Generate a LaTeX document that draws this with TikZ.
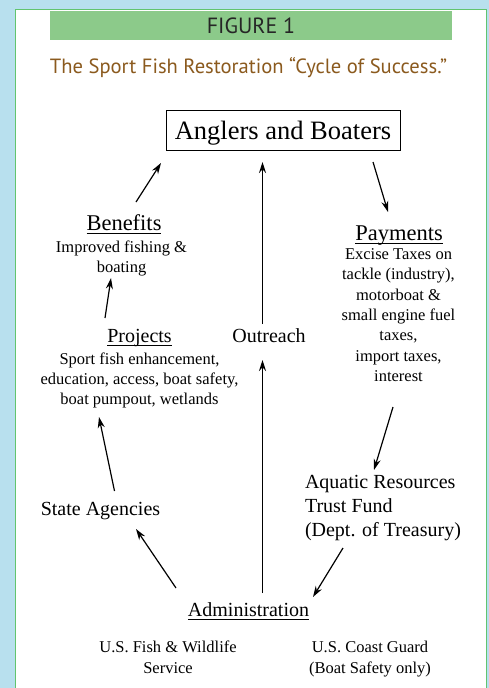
\documentclass[tikz,border=0pt]{standalone}
\usepackage{fontspec}
\setmainfont{Liberation Serif}
\newfontfamily\figfont{PT Sans}
\usetikzlibrary{arrows.meta}

\definecolor{skyblue}{HTML}{B8E0EE}
\definecolor{framegreen}{HTML}{62C46E}
\definecolor{bargreen}{HTML}{8CCA8A}
\definecolor{titlebrown}{HTML}{8B5A1E}
\definecolor{figgray}{HTML}{262626}

% underline at a fixed depth, descenders ignored
\newcommand\headline[1]{\underline{\raisebox{0pt}[\height][2pt]{#1}}}

\begin{document}
\begin{tikzpicture}[
	x = 1pt, y = -1pt, % pixel grid, y runs down
	> = {Stealth[length=11pt, width=7pt]}, % arrow head style
	line width = 1.2pt % line style
	]
	
	\tikzstyle{every node}=[
	inner sep = 0pt,
	outer sep = 0pt
	]
	\tikzstyle{head}=[font=\fontsize{22.5}{26}\selectfont, anchor=base]
	\tikzstyle{mid}=[font=\fontsize{20}{24}\selectfont, anchor=base]
	\tikzstyle{note}=[font=\fontsize{16.5}{20}\selectfont, align=center, anchor=north]
	
	% background and frame
	\useasboundingbox (0,0) rectangle (489,688);
	\fill[skyblue] (0,0) rectangle (489,688);
	\draw[framegreen, fill=white, line width=1pt] (15,9) rectangle (486.5,695);
	
	\node[fill=bargreen, minimum width=402pt, minimum height=29pt, text=figgray,
	font=\figfont\fontsize{22}{24}\selectfont] (figure) at (251,25.5) {FIGURE 1};
	\node[anchor=base, text=titlebrown, font=\figfont\fontsize{20.6}{24}\selectfont]
	(title) at (248.5,73) {The Sport Fish Restoration “Cycle of Success.”};
	
	\node[draw, line width=1pt, minimum width=234pt, minimum height=40pt, text depth=0pt,
	font=\fontsize{26.5}{30}\selectfont] (anglers) at (283,130) {Anglers and Boaters};
	
	\node[head] (benefits) at (124,230) {\headline{Benefits}};
	\node[note] (benefitstext) at (121.5,240.7) {Improved fishing \&\\boating};
	
	\node[mid] (projects) at (139.5,342) {\headline{Projects}};
	\node[note] (projectstext) at (139.5,352.7) {Sport fish enhancement,\\education, access, boat safety,\\boat pumpout, wetlands};
	
	\node[mid] (outreach) at (269,342) {Outreach};
	
	\node[head] (payments) at (399,240) {\headline{Payments}};
	\node[note, font=\fontsize{16.5}{20.3}\selectfont] (paymentstext) at (398.5,248.7)
	{Excise Taxes on\\tackle (industry),\\motorboat \&\\small engine fuel\\taxes,\\import taxes,\\interest};
	
	\node[mid, anchor=north west, align=left] (fund) at (305,475.5)
	{Aquatic Resources\\Trust Fund\\(Dept. of Treasury)};
	
	\node[mid] (agencies) at (100.5,515) {State Agencies};
	\node[mid] (admin) at (248.5,616) {\headline{Administration}};
	
	\node[note, font=\fontsize{16.5}{21}\selectfont] (fws) at (168,640.7) {U.S. Fish \& Wildlife\\Service};
	\node[note, font=\fontsize{16.5}{21}\selectfont] (uscg) at (370,640.7) {U.S. Coast Guard\\(Boat Safety only)};
	
	\draw[->] ([shift={(12,-28)}]benefits.base) -- ([shift={(-5,13)}]anglers.south west);
	\draw[->] ([shift={(-34.5,-24)}]projects.base) -- ([shift={(-10.5,37.3)}]benefitstext.north);
	\draw[->] ([shift={(14,-24)}]agencies.base) -- ([shift={(-40.5,64.3)}]projectstext.north);
	\draw[->] ([shift={(-72.5,-28)}]admin.base) -- ([shift={(35.5,14)}]agencies.base);
	\draw[->] ([shift={(14,-23)}]admin.base) -- ([shift={(-6.5,18)}]outreach.base);
	\draw[->] ([shift={(-6.5,-18)}]outreach.base) -- ([shift={(-20.5,12)}]anglers.south);
	\draw[->] ([shift={(-27,12)}]anglers.south east) -- ([shift={(-11,-28)}]payments.base);
	\draw[->] ([shift={(-5.5,158.3)}]paymentstext.north) -- ([shift={(69,-5.5)}]fund.north west);
	\draw[->] ([shift={(38,72.5)}]fund.north west) -- ([shift={(64.5,-19)}]admin.base);
	
\end{tikzpicture}
\end{document}
